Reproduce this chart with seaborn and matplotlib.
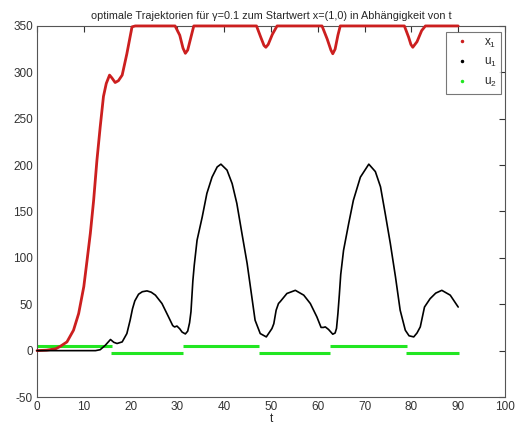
import seaborn as sns
import numpy as np
import pandas as pd
import matplotlib.pyplot as plt
from matplotlib.lines import Line2D

# x1 trajectory
t_x1 = [0, 2, 4, 5, 6.4, 7.8, 8.9, 10.0, 10.7, 11.4, 12.1, 12.8, 13.5, 14.2, 14.8, 15.5, 16.0, 16.7, 17.4,
        18.2, 19.2, 20.3, 21, 29.5, 30.5, 31.2, 31.7, 32.2, 33.0, 33.5, 46.9, 47.8, 48.5, 48.9, 49.4, 50.3,
        51.3, 60.9, 62.0, 62.8, 63.2, 63.7, 64.3, 64.8, 78.5, 79.4, 79.9, 80.3, 81.2, 82.2, 83.0, 90]
x1 = [0, 0.5, 2, 4.7, 9.4, 22, 40, 69, 97.5, 126.6, 162, 205, 241, 274, 288, 297, 294, 289, 291,
      297, 320, 349, 350, 350, 340, 326, 320.5, 324, 340, 350, 350, 338, 329, 327, 330, 341,
      350, 350, 336, 324, 320, 325, 340, 350, 350, 338, 330, 327, 333, 345, 350, 350]

# u1 control
t_u1 = [0, 12.5, 13.5, 14.6, 15.7, 16.4, 17.1, 18.2, 19.2, 19.9, 20.4, 20.9, 21.7, 22.5, 23.5, 24.4, 25.3,
        26.7, 28.1, 29.0, 29.4, 29.9, 30.5, 31.0, 31.7, 32.2, 32.6, 32.9, 33.3, 33.6, 34.2, 35.3, 36.3,
        37.4, 38.5, 39.3, 40.6, 41.7, 42.7, 43.8, 44.9, 45.9, 46.6, 47.7, 49.0, 50.2, 50.6, 51.1, 51.6,
        52.0, 53.4, 55.2, 57.0, 58.4, 59.8, 60.7, 61.2, 61.6, 62.3, 63.2, 63.7, 64.0, 64.3, 64.6, 64.9,
        65.5, 66.6, 67.6, 69.1, 70.9, 72.3, 73.4, 74.4, 75.5, 76.6, 77.6, 78.7, 79.5, 80.5, 81.2, 81.9,
        82.8, 84.0, 85.2, 86.5, 88.3, 90.0]
u1 = [0, 0, 1, 5.8, 12, 9, 7.7, 9.4, 18.4, 32.8, 45, 53.6, 60.8, 63.5, 64.4, 63, 59.8,
      50.8, 36.4, 27, 25.5, 26.5, 23.5, 20, 18, 21, 30, 42, 75, 92, 119, 144, 169.5,
      187, 198, 201, 194.6, 180, 158.7, 126, 94, 58, 32.8, 18.4, 14.8, 23.8, 29, 43.6, 50.8,
      53, 61.6, 65, 59.8, 50.8, 36.4, 25, 25, 25.6, 22.8, 17.7, 19, 24, 40, 60, 82,
      108, 137, 162, 187, 201, 193, 176.6, 148, 115.5, 79.5, 43.6, 22, 16, 14.8, 19, 25.6,
      47, 56, 62, 65, 59.8, 47]

# u2 control (piecewise constant)
u2_start = [0, 15.8, 31.2, 47.4, 62.6, 78.8]
u2_end = [16.0, 31.2, 47.4, 62.7, 79.1, 90.2]
u2 = [5, -2.5, 5, -2.5, 5, -2.5]

red = '#cc1f1f'
green = '#22e622'

sns.set_style('white')
plt.rcParams['font.family'] = ['Liberation Sans', 'DejaVu Sans']
plt.rcParams['mathtext.default'] = 'regular'
plt.rcParams['axes.unicode_minus'] = False

fig = plt.figure(figsize=(5.22, 4.33), dpi=100)
ax = fig.add_axes([0.0709, 0.0831, 0.8965, 0.857])

sns.lineplot(x=t_x1, y=x1, sort=False, color=red, linewidth=2.0, ax=ax)
sns.lineplot(x=t_u1, y=u1, sort=False, color='black', linewidth=1.2, ax=ax)
ax.hlines(u2, u2_start, u2_end, color=green, linewidth=2.2)
for ln in ax.lines:
    ln.set_clip_on(False)
    ln.set_zorder(3)

ax.set_xlim(0, 100)
ax.set_ylim(-50, 350)
ax.set_xticks(range(0, 101, 10))
ax.set_yticks(range(-50, 351, 50))
ax.tick_params(direction='in', top=True, right=True, length=4, width=0.8,
               colors='#333333', labelsize=8.5, pad=3)
for s in ax.spines.values():
    s.set_color('#555555')
    s.set_linewidth(0.8)

ax.set_title('optimale Trajektorien für γ=0.1 zum Startwert x=(1,0) in Abhängigkeit von t',
             fontsize=7.8, pad=5)
ax.set_xlabel('t', fontsize=8.5, labelpad=0)

handles = [Line2D([], [], ls='none', marker='.', markersize=3, color=c)
           for c in [red, 'black', green]]
leg = ax.legend(handles, ['x$_1$', 'u$_1$', 'u$_2$'], loc='upper right',
                bbox_to_anchor=(0.992, 0.984), borderaxespad=0, fontsize=8.5,
                frameon=True, fancybox=False, handlelength=2.0, handletextpad=0.8,
                borderpad=0.4, labelspacing=0.55)
leg.get_frame().set_edgecolor('#555555')
leg.get_frame().set_linewidth(0.8)
leg.set_zorder(5)

plt.savefig('out.png', dpi=100)
